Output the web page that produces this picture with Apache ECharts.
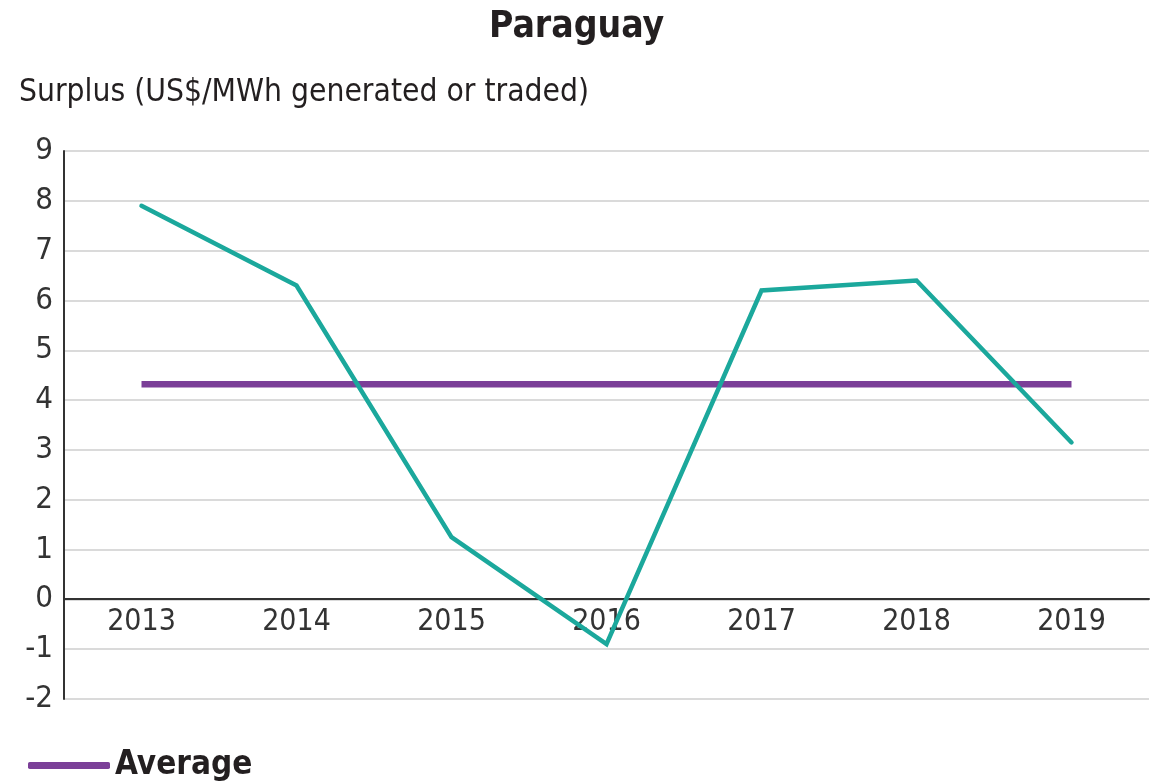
<!DOCTYPE html>
<html>
<head>
<meta charset="utf-8">
<title>Paraguay surplus</title>
<script src="https://cdn.jsdelivr.net/npm/echarts@6/dist/echarts.min.js"></script>
<style>
  html, body { margin: 0; padding: 0; background: #ffffff; }
  #chart { width: 1162px; height: 784px; }
</style>
</head>
<body>
<div id="chart"></div>
<script>
// Surplus per MWh generated or traded, Paraguay
const years = ['2013', '2014', '2015', '2016', '2017', '2018', '2019'];
const surplus = [7.9, 6.3, 1.25, -0.9, 6.2, 6.4, 3.15];
const average = [4.32, 4.32, 4.32, 4.32, 4.32, 4.32, 4.32];
const yTicks = { min: -2, max: 9, step: 1 };

const FONT = '"Liberation Sans Narrow", "DejaVu Sans Condensed", "Roboto", sans-serif';
const INK = '#231f20';

const chart = echarts.init(document.getElementById('chart'), null, { renderer: 'canvas' });

chart.setOption({
  animation: false,
  backgroundColor: '#ffffff',
  title: [
    {
      text: 'Paraguay',
      left: 484,
      top: 4,
      textStyle: { fontFamily: FONT, fontWeight: 'bold', fontSize: 37, color: INK }
    },
    {
      text: 'Surplus (US$/MWh generated or traded)',
      left: 14,
      top: 72,
      textStyle: { fontFamily: FONT, fontWeight: 'normal', fontSize: 31.5, color: INK }
    }
  ],
  legend: {
    data: [{ name: 'Average', icon: 'roundRect' }],
    left: 23,
    top: 744,
    itemWidth: 82,
    itemHeight: 7,
    textStyle: { fontFamily: FONT, fontSize: 33, fontWeight: 'bold', color: INK, padding: [0, 0, 0, 0] }
  },
  grid: { left: 64, right: 13, top: 151, bottom: 85, containLabel: false },
  xAxis: {
    type: 'category',
    data: years,
    boundaryGap: true,
    position: 'bottom',
    offset: -100,
    axisTick: { show: false },
    axisLine: { onZero: false, lineStyle: { color: '#333333', width: 2 } },
    axisLabel: { fontFamily: FONT, fontSize: 30, color: '#333333', margin: 8 },
    splitLine: { show: false }
  },
  yAxis: {
    type: 'value',
    min: yTicks.min,
    max: yTicks.max,
    interval: yTicks.step,
    axisLine: { show: true, onZero: false, lineStyle: { color: '#333333', width: 2 } },
    axisTick: { show: false },
    axisLabel: { fontFamily: FONT, fontSize: 31, color: '#333333', margin: 11 },
    splitLine: { lineStyle: { color: '#dadada', width: 2 } }
  },
  series: [
    {
      name: 'Average',
      type: 'line',
      data: average,
      symbol: 'none',
      lineStyle: { color: '#7b3f98', width: 6.5 },
      itemStyle: { color: '#7b3f98' },
      z: 2
    },
    {
      name: 'Surplus',
      type: 'line',
      data: surplus,
      symbol: 'none',
      lineStyle: { color: '#1ba89c', width: 4.5, cap: 'round', join: 'miter' },
      itemStyle: { color: '#1ba89c' },
      z: 3
    }
  ]
});
</script>
</body>
</html>
